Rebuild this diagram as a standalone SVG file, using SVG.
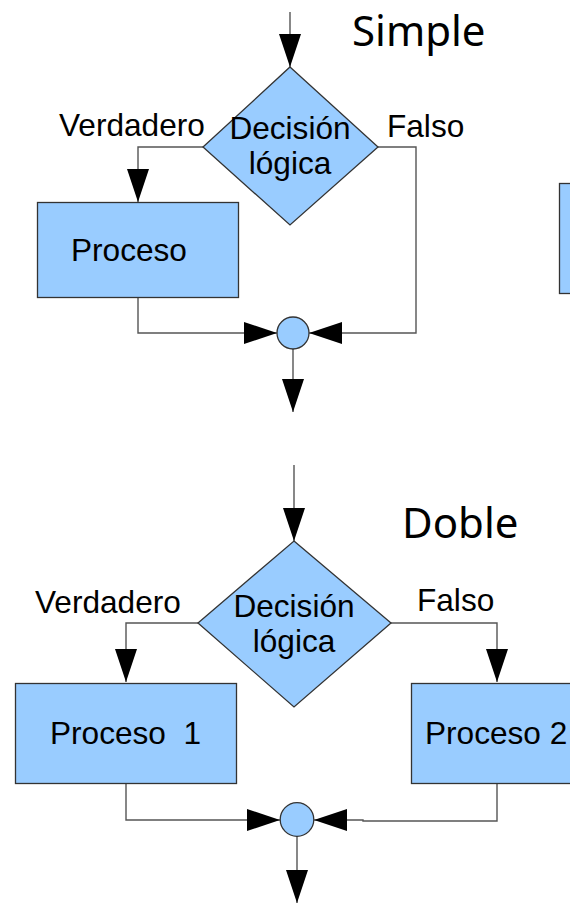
<svg xmlns="http://www.w3.org/2000/svg" width="570" height="903" viewBox="0 0 570 903">
  <style>
    .shape { fill: #99ccff; stroke: #333333; stroke-width: 1.3; }
    .conn { fill: none; stroke: #555555; stroke-width: 1.4; marker-end: url(#arrow); }
    .plain { fill: none; stroke: #555555; stroke-width: 1.4; }
    .lbl { font-family: "Liberation Sans", Arial, sans-serif; font-size: 31.6px; fill: #000000; }
    .title { font-family: "Noto Sans", "Open Sans", sans-serif; font-size: 42px; fill: #000000; }
  </style>
  <defs>
    <marker id="arrow" markerUnits="userSpaceOnUse" markerWidth="34" markerHeight="22" refX="33" refY="11" orient="auto" viewBox="0 0 34 22">
      <path d="M0,0 L33,11 L0,22 Z" fill="#000000"/>
    </marker>
  </defs>
  <rect width="570" height="903" fill="#ffffff"/>

  <!-- Simple -->
  <text id="title-simple" class="title" x="352" y="46" font-size="42.8">Simple</text>

  <g id="connectors-simple">
    <path class="conn" d="M290,12 V67"/>
    <path class="conn" d="M203,147 H138 V202"/>
    <path class="conn" d="M378,147 H416 V333 H309"/>
    <path class="conn" d="M138,298 V333 H277"/>
    <path class="conn" d="M293,349 V412"/>
  </g>

  <g id="decision-simple">
    <polygon class="shape" points="290,67 378,147 290,225 203,147"/>
    <text class="lbl" x="290" y="139" text-anchor="middle">Decisión</text>
    <text class="lbl" x="290" y="174" text-anchor="middle">lógica</text>
  </g>
  <g id="label-verdadero-simple">
    <text class="lbl" x="59" y="136">Verdadero</text>
  </g>
  <g id="label-falso-simple">
    <text class="lbl" x="387" y="137">Falso</text>
  </g>
  <g id="proceso-simple">
    <rect class="shape" x="37.5" y="202.5" width="201" height="95"/>
    <text class="lbl" x="71" y="261">Proceso</text>
  </g>
  <g id="merge-simple">
    <circle class="shape" cx="293" cy="333" r="16"/>
  </g>
  <g id="partial-box">
    <rect class="shape" x="559.5" y="183.5" width="40" height="110"/>
  </g>

  <!-- Doble -->
  <text id="title-doble" class="title" x="402" y="538" font-size="41.5">Doble</text>

  <g id="connectors-doble">
    <path class="conn" d="M294,465 V541"/>
    <path class="conn" d="M198,623 H126 V682"/>
    <path class="conn" d="M391,623 H497 V682"/>
    <path class="conn" d="M126,783 V820 H280"/>
    <path class="plain" d="M497,783 V821 H363 V820 H349"/>
    <path class="conn" d="M349,820 H314"/>
    <path class="conn" d="M297,836 V903"/>
  </g>

  <g id="decision-doble">
    <polygon class="shape" points="294,541 391,623 294,707 198,623"/>
    <text class="lbl" x="294" y="617" text-anchor="middle">Decisión</text>
    <text class="lbl" x="294" y="652" text-anchor="middle">lógica</text>
  </g>
  <g id="label-verdadero-doble">
    <text class="lbl" x="35" y="613">Verdadero</text>
  </g>
  <g id="label-falso-doble">
    <text class="lbl" x="417" y="611">Falso</text>
  </g>
  <g id="proceso1-doble">
    <rect class="shape" x="15.5" y="683.5" width="221" height="100"/>
    <text class="lbl" x="50" y="744" xml:space="preserve">Proceso  1</text>
  </g>
  <g id="proceso2-doble">
    <rect class="shape" x="411.5" y="683.5" width="180" height="100"/>
    <text class="lbl" x="425" y="744">Proceso 2</text>
  </g>
  <g id="merge-doble">
    <circle class="shape" cx="297" cy="819.5" r="16.8"/>
  </g>
</svg>
